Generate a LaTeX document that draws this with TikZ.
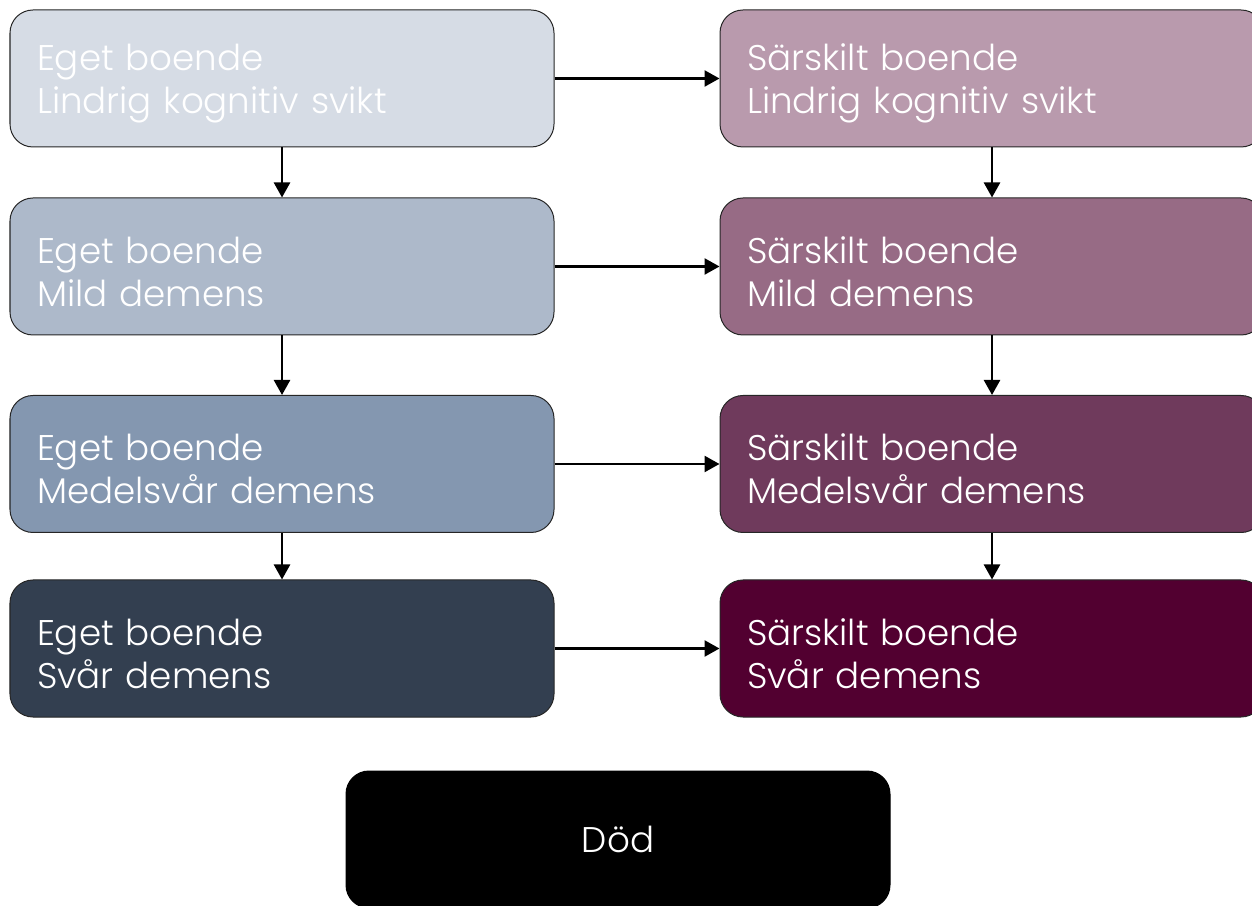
\documentclass[tikz,border=0pt]{standalone}
\usepackage{fontspec}
\setmainfont{Poppins}[UprightFont={* Light}]
\usetikzlibrary{arrows.meta,positioning}

\definecolor{egetA}{HTML}{D6DCE5}
\definecolor{egetB}{HTML}{ADB9CA}
\definecolor{egetC}{HTML}{8497B0}
\definecolor{egetD}{HTML}{333F50}
\definecolor{sarA}{HTML}{B99AAD}
\definecolor{sarB}{HTML}{976B85}
\definecolor{sarC}{HTML}{6F3A5C}
\definecolor{sarD}{HTML}{520030}

\tikzset{
  state/.style={draw=black!85, line width=0.02cm, rounded corners=0.46cm,
    minimum width=10.88cm, minimum height=2.74cm, inner xsep=0.54cm,
    text width=9.8cm, align=left, text=white,
    font=\fontsize{20.3}{24.5}\selectfont},
  twoline/.style={state, execute at begin node={\rule{0pt}{21pt}}},
  flow/.style={line width=0.05cm, -{Triangle[length=0.3cm,width=0.32cm]}}
}

\begin{document}
\begin{tikzpicture}
                        \useasboundingbox (0,0) rectangle (25.04,18.1);
                        \clip (0,0) rectangle (25.04,18.1);

                        % Eget boende column
                        \node [twoline, fill=egetA] (egetLindrig) at (5.64,16.53) {Eget boende\\Lindrig kognitiv svikt};
                        \node [twoline, fill=egetB] (egetMild) at (5.64,12.77) {Eget boende\\Mild demens};
                        \node [twoline, fill=egetC] (egetMedel) at (5.64,8.82) {Eget boende\\Medelsvår demens};
                        \node [twoline, fill=egetD] (egetSvar) at (5.64,5.13) {Eget boende\\Svår demens};

                        % Särskilt boende column
                        \node [twoline, fill=sarA] (sarLindrig) at (19.84,16.53) {Särskilt boende\\Lindrig kognitiv svikt};
                        \node [twoline, fill=sarB] (sarMild) at (19.84,12.77) {Särskilt boende\\Mild demens};
                        \node [twoline, fill=sarC] (sarMedel) at (19.84,8.82) {Särskilt boende\\Medelsvår demens};
                        \node [twoline, fill=sarD] (sarSvar) at (19.84,5.13) {Särskilt boende\\Svår demens};

                        % Death
                        \node [state, fill=black, draw=black, align=center] (dod) at (12.36,1.31) {Död};

                        % Moving to special housing
                        \draw [flow] (egetLindrig) -- (sarLindrig);
                        \draw [flow] (egetMild) -- (sarMild);
                        \draw [flow] (egetMedel) -- (sarMedel);
                        \draw [flow] (egetSvar) -- (sarSvar);

                        % Progression of dementia
                        \draw [flow] (egetLindrig) -- (egetMild);
                        \draw [flow] (egetMild) -- (egetMedel);
                        \draw [flow] (egetMedel) -- (egetSvar);
                        \draw [flow] (sarLindrig) -- (sarMild);
                        \draw [flow] (sarMild) -- (sarMedel);
                        \draw [flow] (sarMedel) -- (sarSvar);
\end{tikzpicture}
\end{document}
